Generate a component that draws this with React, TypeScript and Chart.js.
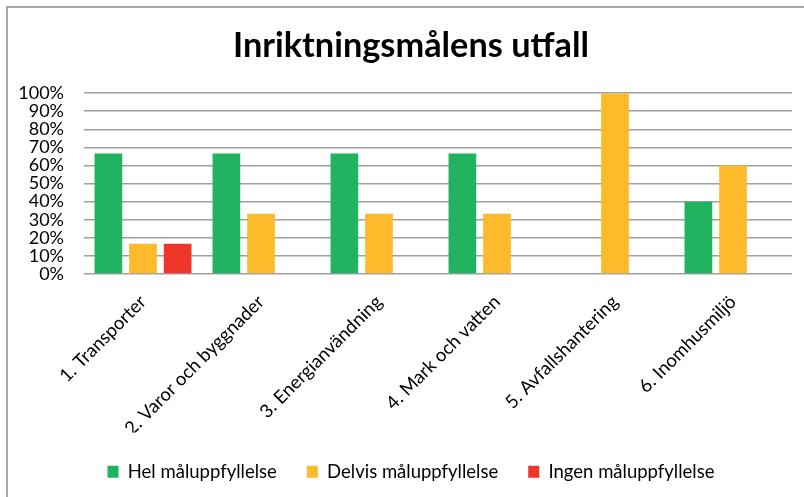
import React, { useEffect, useRef } from "react";
import { Chart, registerables } from "chart.js";

Chart.register(...registerables);

const categories = [
  "1. Transporter",
  "2. Varor och byggnader",
  "3. Energianvändning",
  "4. Mark och vatten",
  "5. Avfallshantering",
  "6. Inomhusmiljö",
];
const helValues = [66.7, 66.7, 66.7, 66.7, 0, 40];
const delvisValues = [16.7, 33.3, 33.3, 33.3, 100, 60];
const ingenValues = [16.7, 0, 0, 0, 0, 0];
const seriesNames = ["Hel måluppfyllelse", "Delvis måluppfyllelse", "Ingen måluppfyllelse"];
const yTicks = [0, 10, 20, 30, 40, 50, 60, 70, 80, 90, 100];
const titleText = "Inriktningsmålens utfall";

const FONT = "Lato, 'Open Sans', sans-serif";

export default function App() {
  const canvasRef = useRef<HTMLCanvasElement | null>(null);

  useEffect(() => {
    if (!canvasRef.current) return;
    const chart = new Chart(canvasRef.current, {
      type: "bar",
      data: {
        labels: categories,
        datasets: [
          { label: seriesNames[0], data: helValues, backgroundColor: "#21B35F", borderWidth: 0 },
          { label: seriesNames[1], data: delvisValues, backgroundColor: "#FDBA2B", borderWidth: 0 },
          { label: seriesNames[2], data: ingenValues, backgroundColor: "#EE352A", borderWidth: 0 },
        ],
      },
      options: {
        animation: false,
        responsive: true,
        maintainAspectRatio: false,
        layout: { padding: { top: 0, left: 0, right: 0, bottom: 6 } },
        datasets: {
          bar: { categoryPercentage: 0.88, barPercentage: 0.8 },
        },
        plugins: {
          tooltip: { enabled: false },
          title: {
            display: true,
            text: titleText,
            color: "#000",
            font: { family: FONT, size: 34.3, weight: "bold" },
            padding: { top: 25, bottom: 27 },
          },
          legend: {
            position: "bottom",
            labels: {
              color: "#000",
              font: { family: FONT, size: 18.5 },
              boxWidth: 11,
              boxHeight: 12,
              padding: 30,
            },
          },
        },
        scales: {
          x: {
            grid: { display: false, drawTicks: false },
            border: { display: false },
            ticks: {
              color: "#000",
              font: { family: FONT, size: 18.5 },
              minRotation: 45,
              maxRotation: 45,
              padding: 17,
              autoSkip: false,
            },
            afterFit: (s: any) => {
              s.height = 158.5;
            },
          },
          y: {
            min: 0,
            max: 100,
            grid: { color: "#9f9f9f", lineWidth: 1.5, drawTicks: false },
            border: { display: false },
            afterBuildTicks: (s: any) => {
              s.ticks = yTicks.map((v) => ({ value: v }));
            },
            ticks: {
              color: "#000",
              font: { family: FONT, size: 18 },
              padding: 20,
              autoSkip: false,
              callback: (v: any) => v + "%",
            },
            afterFit: (s: any) => {
              s.width = 84;
            },
          },
          y2: {
            position: "right",
            display: true,
            grid: { display: false, drawTicks: false },
            border: { display: false },
            ticks: { display: false },
            afterFit: (s: any) => {
              s.width = 30;
            },
          },
        },
      },
    });
    return () => chart.destroy();
  }, []);

  return (
    <div
      style={{
        position: "fixed",
        left: 0,
        top: 0,
        width: 804,
        height: 497,
        overflow: "hidden",
        background: "#fff",
      }}
    >
      <div
        style={{
          position: "absolute",
          left: 6,
          top: 6,
          width: 840,
          height: 540,
          border: "2px solid #a6a6a6",
          boxSizing: "border-box",
        }}
      />
      <div style={{ position: "absolute", left: 0, top: 0, width: 822, height: 497 }}>
        <canvas ref={canvasRef} />
      </div>
    </div>
  );
}
